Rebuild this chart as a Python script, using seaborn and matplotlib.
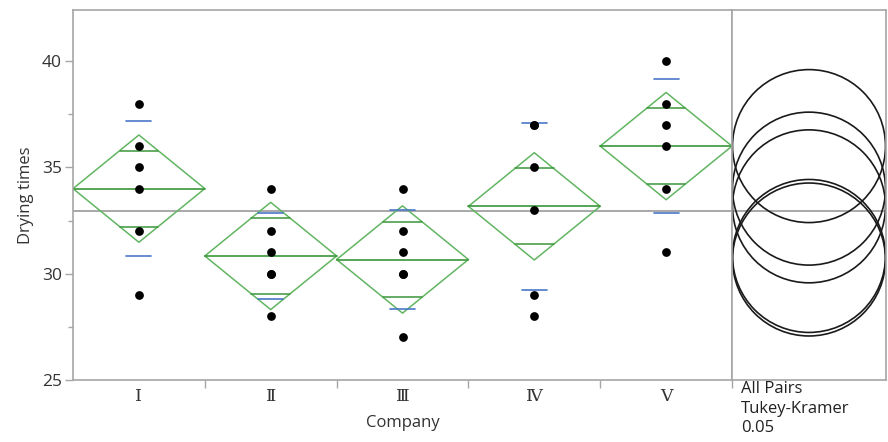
import numpy as np
import pandas as pd
import matplotlib
matplotlib.use("Agg")
import matplotlib.pyplot as plt
import seaborn as sns
from matplotlib.patches import Circle

# Drying times (minutes) for paint from five companies
companies = ["Ⅰ", "Ⅱ", "Ⅲ", "Ⅳ", "Ⅴ"]
times_I = [38, 36, 35, 34, 32, 29]
times_II = [34, 32, 31, 30, 30, 28]
times_III = [34, 32, 31, 30, 30, 27]
times_IV = [37, 37, 35, 33, 29, 28]
times_V = [40, 38, 37, 36, 34, 31]
groups = [times_I, times_II, times_III, times_IV, times_V]

# critical values for alpha = 0.05 with 5 groups, 25 error df
t_crit = 2.0595   # t(0.975, 25)
q_crit = 4.153    # studentized range q(0.05, 5, 25)
comparison_label = "All Pairs\nTukey-Kramer\n0.05"

df = pd.DataFrame({
    "Company": np.repeat(companies, [len(g) for g in groups]),
    "Drying times": np.concatenate(groups),
})

means = np.array([np.mean(g) for g in groups])
sds = np.array([np.std(g, ddof=1) for g in groups])
ns = np.array([len(g) for g in groups])
sse = sum(((np.array(g) - np.mean(g)) ** 2).sum() for g in groups)
mse = sse / (ns.sum() - len(groups))
se = np.sqrt(mse / ns)
ci = t_crit * se
grand_mean = df["Drying times"].mean()
radius = q_crit / np.sqrt(2) * se

sns.set_style("white")
plt.rcParams["font.family"] = ["Open Sans", "DejaVu Sans"]

W, H = 888, 442
fig = plt.figure(figsize=(W / 100, H / 100), dpi=100)
x0, x1, x2 = 73, 732, 886
ytop_px, ybot_px = 10, 380
ax = fig.add_axes([x0 / W, 1 - ybot_px / H, (x1 - x0) / W, (ybot_px - ytop_px) / H])
axc = fig.add_axes([x1 / W, 1 - ybot_px / H, (x2 - x1) / W, (ybot_px - ytop_px) / H])

ylo, yhi = 25, 42.4
frame = "#a6a6a6"
green = "#62b562"
green_dark = "#3a963a"
blue = "#4a78c8"

# mean diamonds, overlap marks and std dev lines
for i, (m, c, s) in enumerate(zip(means, ci, sds)):
    ax.plot([i - 0.5, i, i + 0.5, i, i - 0.5], [m, m + c, m, m - c, m],
            color=green, lw=1.1, zorder=2)
    ax.plot([i - 0.5, i + 0.5], [m, m], color=green_dark, lw=1.2, zorder=2)
    d = c / np.sqrt(2)
    hw = 0.5 * (1 - d / c)
    for yy in (m + d, m - d):
        ax.plot([i - hw, i + hw], [yy, yy], color=green_dark, lw=1.1, zorder=2)
    for yy in (m + s, m - s):
        ax.plot([i - 0.095, i + 0.095], [yy, yy], color=blue, lw=1.2, zorder=2)

ax.axhline(grand_mean, color="#9a9a9a", lw=1.2, zorder=1)

sns.stripplot(data=df, x="Company", y="Drying times", order=companies,
              jitter=False, color="black", size=6.3, linewidth=0, ax=ax, zorder=3)

ax.set_xlim(-0.5, len(companies) - 0.5)
ax.set_ylim(ylo, yhi)
ax.set_yticks([25, 30, 35, 40])
ax.set_yticks([27.5, 32.5, 37.5], minor=True)
ax.set_xticks(np.arange(len(companies)) + 0.5)
ax.set_xticklabels([])
ax.set_xticks(np.arange(len(companies)), minor=True)
ax.set_xticklabels(companies, minor=True, family="DejaVu Serif", fontsize=12.5,
                   color="#333333")
ax.tick_params(axis="x", which="major", length=6, width=1, color=frame, direction="out",
               bottom=True)
ax.tick_params(axis="x", which="minor", length=0, pad=6, bottom=True)
ax.tick_params(axis="y", which="major", length=6, width=1, color=frame, labelsize=12.5,
               labelcolor="#333333", left=True, pad=2)
ax.tick_params(axis="y", which="minor", length=3.5, width=1, color=frame, left=True)
ax.set_xlabel("Company", fontsize=12, color="#333333", labelpad=7)
ax.set_ylabel("Drying times", fontsize=12, color="#333333", labelpad=6)
for sp in ax.spines.values():
    sp.set_color(frame)
    sp.set_linewidth(1.2)

# comparison circles drawn in a panel with equal scaling on both axes
ppu = (ybot_px - ytop_px) / (yhi - ylo)
half_w = (x2 - x1) / 2 / ppu
axc.set_xlim(-half_w, half_w)
axc.set_ylim(ylo, yhi)
axc.axhline(grand_mean, color="#9a9a9a", lw=1.2, zorder=1)
for m, r in zip(means, radius):
    axc.add_patch(Circle((0, m), r, fill=False, edgecolor="#1a1a1a", lw=1.2, zorder=2))
axc.set_xticks([])
axc.set_yticks([])
for sp in axc.spines.values():
    sp.set_color(frame)
    sp.set_linewidth(1.2)

fig.text(741 / W, 1 - 381 / H, comparison_label, ha="left", va="top", fontsize=12,
         color="#222222", linespacing=1.3)

fig.savefig("out.png", dpi=100, facecolor="white")
